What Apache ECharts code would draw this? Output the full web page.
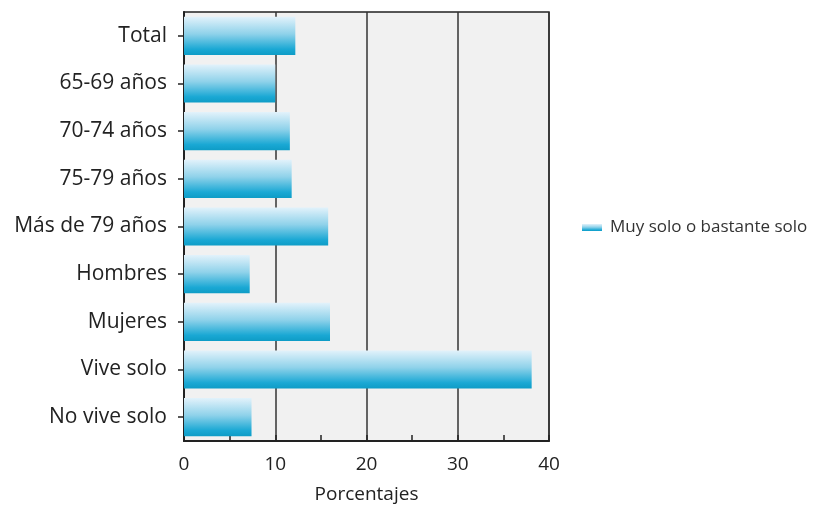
<!DOCTYPE html>
<html>
<head>
<meta charset="utf-8">
<script src="https://cdn.jsdelivr.net/npm/echarts@6/dist/echarts.min.js"></script>
<style>
    html, body { margin: 0; padding: 0; background: #fff; }
    #chart { width: 821px; height: 509px; }
</style>
</head>
<body>
<div id="chart"></div>
<script>
// categorias
let categories = ['Total', '65-69 años', '70-74 años', '75-79 años', 'Más de 79 años', 'Hombres', 'Mujeres', 'Vive solo', 'No vive solo']
// valores (%)
let values = [12.2, 10.0, 11.6, 11.8, 15.8, 7.2, 16.0, 38.1, 7.4]
let seriesName = 'Muy solo o bastante solo'
let xTicks = [0, 10, 20, 30, 40]

let fontFamily = '"Open Sans", "Noto Sans", sans-serif'

let myChart = echarts.init(document.getElementById('chart'))

//degradado de las barras
let barColor = new echarts.graphic.LinearGradient(0, 0, 0, 1, [
    { offset: 0, color: '#e2f2fb' },
    { offset: 0.45, color: '#8fd2ea' },
    { offset: 0.85, color: '#1aa8d4' },
    { offset: 1, color: '#0e9cc6' }
])

let option = {
    animation: false,
    legend: {
        show: true,
        left: 577,
        top: 214,
        itemWidth: 20,
        itemHeight: 7,
        data: [{ name: seriesName, icon: 'rect' }],
        textStyle: { color: '#333', fontSize: 17, fontFamily: fontFamily, padding: [0, 0, 0, 3] }
    },
    grid: {
        left: 184,
        right: 272,
        top: 12,
        bottom: 68,
        show: true,
        backgroundColor: '#f1f1f1',
        borderColor: '#222',
        borderWidth: 1.5
    },
    xAxis: {
        type: 'value',
        min: xTicks[0],
        max: xTicks[xTicks.length - 1],
        interval: 10,
        name: 'Porcentajes',
        nameLocation: 'middle',
        nameGap: 44,
        nameTextStyle: { color: '#222', fontSize: 19, fontFamily: fontFamily },
        axisLine: { show: true, lineStyle: { color: '#222', width: 2 } },
        axisTick: { show: true, inside: true, length: 6, lineStyle: { color: '#222', width: 1.5 } },
        minorTick: { show: true, splitNumber: 2, length: 6, lineStyle: { color: '#222', width: 1.5 } },
        axisLabel: { color: '#222', fontSize: 19, margin: 14, fontFamily: fontFamily },
        splitLine: { show: true, lineStyle: { color: '#333', width: 1.5 } }
    },
    yAxis: {
        type: 'category',
        data: categories,
        inverse: true,
        axisLine: { show: true, lineStyle: { color: '#222', width: 2 } },
        axisTick: { show: true, alignWithLabel: true, length: 6, lineStyle: { color: '#222', width: 1.5 } },
        axisLabel: { color: '#222', fontSize: 21, margin: 17, fontFamily: fontFamily }
    },
    series: [
        {
            name: seriesName,
            type: 'bar',
            data: values,
            barCategoryGap: '20%',
            itemStyle: { color: barColor }
        }
    ]
}
myChart.setOption(option)
window.addEventListener('resize', function () {
    myChart.resize()
})
</script>
</body>
</html>
